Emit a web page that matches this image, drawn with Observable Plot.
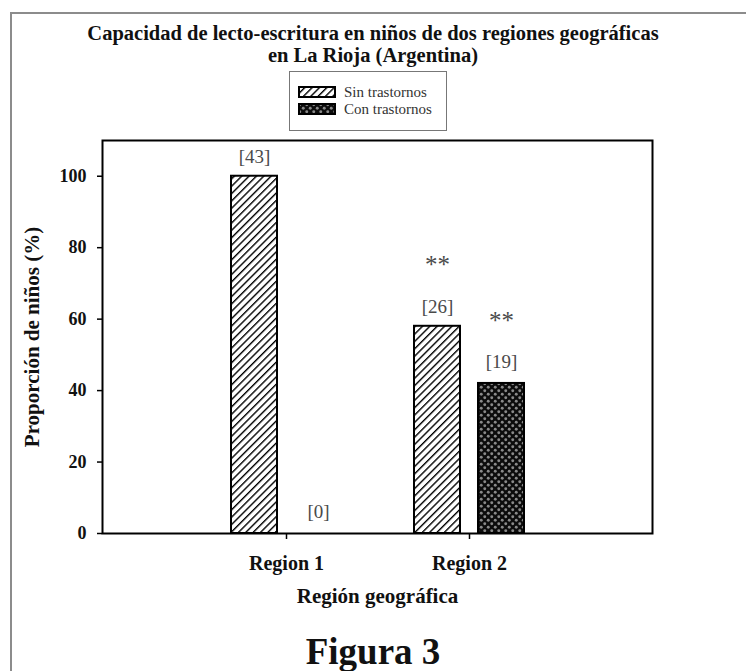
<!DOCTYPE html>
<html>
<head>
<meta charset="utf-8">
<script src="https://cdn.jsdelivr.net/npm/d3@7"></script>
<script src="https://cdn.jsdelivr.net/npm/@observablehq/plot@0.6"></script>
<style>
  body { margin: 0; background: #fff; font-family: "Liberation Serif", "Times New Roman", serif; }
  #page { position: relative; width: 746px; height: 671px; overflow: hidden; background: #fff; }
  #border { position: absolute; left: 10px; top: 12px; width: 800px; height: 800px;
            border-left: 2px solid #8c8c8c; border-top: 2px solid #8c8c8c; }
  #title { position: absolute; left: 0; top: 22px; width: 746px; text-align: center;
           font-weight: bold; font-size: 20.5px; line-height: 22px; color: #111; }
  #legend { position: absolute; left: 289px; top: 71px; width: 156px; height: 58px;
            border: 1px solid #777; background: #fff; }
  .lg-row { position: absolute; left: 8px; height: 14px; display: flex; align-items: center;
            font-size: 15px; color: #333; white-space: nowrap; }
  .lg-row svg { margin-right: 8px; }
  #chart { position: absolute; left: 0; top: 130px; }
  #fig { position: absolute; left: 0; top: 633px; width: 746px; text-align: center;
         font-weight: bold; font-size: 37px; line-height: 37px; color: #111; }
</style>
</head>
<body>
<div id="page">
  <svg width="0" height="0" style="position:absolute">
    <defs>
      <pattern id="hatch" patternUnits="userSpaceOnUse" width="5.2" height="5.2" patternTransform="rotate(45)">
        <rect width="5.2" height="5.2" fill="#fff"></rect>
        <line x1="0" y1="0" x2="0" y2="5.2" stroke="#000" stroke-width="2.8"></line>
      </pattern>
      <pattern id="cross" patternUnits="userSpaceOnUse" width="7" height="7">
        <rect width="7" height="7" fill="#0c0c0c"></rect>
        <circle cx="1.75" cy="1.75" r="1.45" fill="#8a8a8a"></circle>
        <circle cx="5.25" cy="5.25" r="1.45" fill="#8a8a8a"></circle>
      </pattern>
    </defs>
  </svg>
  <div id="border"></div>
  <div id="title">Capacidad de lecto-escritura en niños de dos regiones geográficas<br>en La Rioja (Argentina)</div>
  <div id="legend"></div>
  <div id="chart"></div>
  <div id="fig">Figura 3</div>
</div>
<script>
// ---- data ----
const regions = ["Region 1", "Region 2"];
const seriesNames = ["Sin trastornos", "Con trastornos"];
const sinValues = [100, 58];     // % children without disorders
const conValues = [0, 42];       // % children with disorders
const sinCounts = [43, 26];
const conCounts = [0, 19];
const sinSignif = ["", "**"];
const conSignif = ["", "**"];
const yTicks = [0, 20, 40, 60, 80, 100];
const yLabel = "Proporción de niños (%)";
const xLabel = "Región geográfica";
const seriesFills = ["url(#hatch)", "url(#cross)"];

const sinData = regions.map((r, i) => ({region: r, value: sinValues[i], count: sinCounts[i], sig: sinSignif[i]}));
const conData = regions.map((r, i) => ({region: r, value: conValues[i], count: conCounts[i], sig: conSignif[i]}));

// ---- legend ----
const legend = document.getElementById("legend");
seriesNames.forEach((name, i) => {
  const row = document.createElement("div");
  row.className = "lg-row";
  row.style.top = (i === 0 ? 13 : 30) + "px";
  row.innerHTML = `<svg width="38" height="12"><rect x="1" y="1" width="36" height="10" fill="${seriesFills[i]}" stroke="#000" stroke-width="2"></rect></svg><span>${name}</span>`;
  legend.appendChild(row);
});

// ---- chart ----
const textColor = "#4a4a4a";
const chart = Plot.plot({
  width: 746,
  height: 500,
  marginTop: 10,
  marginLeft: 102,
  marginRight: 94,
  marginBottom: 97,
  style: {fontFamily: "Liberation Serif, Times New Roman, serif", fontSize: "18px", color: "#111", background: "transparent"},
  x: {domain: regions, paddingInner: 0.4, paddingOuter: 0.7},
  y: {domain: [0, 110]},
  marks: [
    Plot.barY(sinData, {x: "region", y: "value", fill: seriesFills[0], stroke: "#000", strokeWidth: 2, insetRight: 64}),
    Plot.barY(conData.filter(d => d.value > 0), {x: "region", y: "value", fill: seriesFills[1], stroke: "#000", strokeWidth: 2, insetLeft: 64}),
    Plot.text(sinData, {x: "region", y: "value", text: d => `[${d.count}]`, dx: -32, dy: -19, fill: textColor, fontSize: 19}),
    Plot.text(conData, {x: "region", y: "value", text: d => `[${d.count}]`, dx: 32, dy: -22, fill: textColor, fontSize: 19}),
    Plot.text(sinData.filter(d => d.sig), {x: "region", y: "value", text: "sig", dx: -32, dy: -61, fill: textColor, fontSize: 25, letterSpacing: "3px"}),
    Plot.text(conData.filter(d => d.sig), {x: "region", y: "value", text: "sig", dx: 32, dy: -62, fill: textColor, fontSize: 25, letterSpacing: "3px"}),
    Plot.frame({stroke: "#000", strokeWidth: 2}),
    Plot.axisY({ticks: yTicks, tickSize: 5, tickPadding: 11, fontWeight: "bold", fontSize: 18, label: null, stroke: "#000", strokeWidth: 1.5}),
    Plot.axisX({tickSize: 6, tickPadding: 16, fontWeight: "bold", fontSize: 20, label: null, stroke: "#000", strokeWidth: 1.5}),
    Plot.text([yLabel], {frameAnchor: "left", textAnchor: "middle", rotate: -90, dx: -70, text: d => d, fontWeight: "bold", fontSize: 21, fill: "#111"}),
    Plot.text([xLabel], {frameAnchor: "bottom", textAnchor: "middle", dy: 69, text: d => d, fontWeight: "bold", fontSize: 21, fill: "#111"})
  ]
});
document.getElementById("chart").appendChild(chart);
</script>
</body>
</html>
